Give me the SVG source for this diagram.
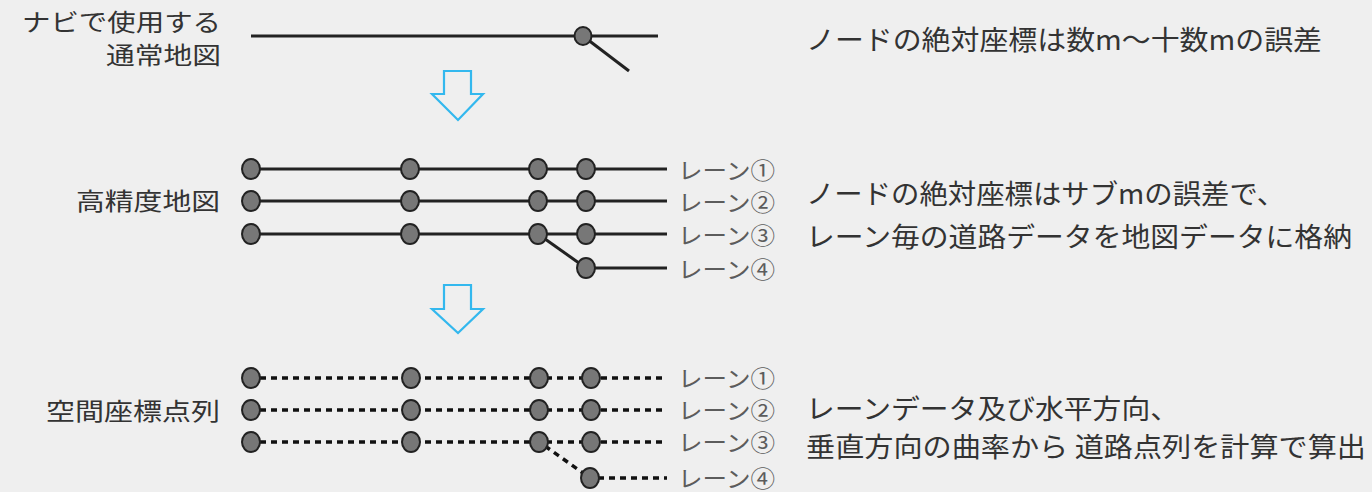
<svg xmlns="http://www.w3.org/2000/svg" width="1372" height="492" viewBox="0 0 1372 492">
<style>
.bg{fill:#efefef}
.lbl{font-family:"Noto Sans CJK JP","Noto Sans",sans-serif;font-size:24px;fill:#333}
.desc{font-family:"Noto Sans CJK JP","Noto Sans",sans-serif;font-size:27px;fill:#333}
.lane{font-family:"Noto Sans CJK JP","Noto Sans",sans-serif;font-size:23px;fill:#5c5c5c}
.road{stroke:#222;stroke-width:3;fill:none}
.dash{stroke:#111;stroke-width:3.5;fill:none;stroke-dasharray:6 5}
.node{fill:#777;stroke:#222;stroke-width:2}
.arrow{fill:none;stroke:#33b8ee;stroke-width:2.2;stroke-linejoin:miter}
</style>
<rect class="bg" x="0" y="0" width="1372" height="492"/>

<g id="connectors">
  <line class="road" x1="251" y1="36" x2="658" y2="36"/>
  <line class="road" x1="583" y1="36" x2="629" y2="71"/>
  <line class="road" x1="250" y1="169" x2="667" y2="169"/>
  <line class="road" x1="250" y1="201" x2="667" y2="201"/>
  <line class="road" x1="250" y1="234" x2="667" y2="234"/>
  <line class="road" x1="538" y1="234" x2="586" y2="268"/>
  <line class="road" x1="586" y1="268" x2="667" y2="268"/>
  <line class="dash" x1="260" y1="378" x2="667" y2="378"/>
  <line class="dash" x1="260" y1="410" x2="667" y2="410"/>
  <line class="dash" x1="260" y1="442" x2="667" y2="442"/>
  <line class="dash" x1="545" y1="446" x2="590" y2="478"/>
  <line class="dash" x1="598" y1="478" x2="667" y2="478"/>
  <polygon class="arrow" points="444,71 471,71 471,94 483,94 458,120 432,94 444,94"/>
  <polygon class="arrow" points="444,285 471,285 471,309 483,309 458,333 432,309 444,309"/>
</g>

<g id="label-normal">
  <text class="lbl" x="22" y="31" textLength="199" lengthAdjust="spacingAndGlyphs">ナビで使用する</text>
  <text class="lbl" x="106" y="64" textLength="115" lengthAdjust="spacingAndGlyphs">通常地図</text>
</g>
<g id="node-normal">
  <ellipse class="node" cx="583" cy="36" rx="8.5" ry="9"/>
</g>
<g id="desc-normal">
  <text class="desc" x="806" y="50" textLength="516" lengthAdjust="spacingAndGlyphs">ノードの絶対座標は数m～十数mの誤差</text>
</g>

<g id="label-hd">
  <text class="lbl" x="76" y="210" textLength="144" lengthAdjust="spacingAndGlyphs">高精度地図</text>
</g>
<g id="nodes-hd">
  <ellipse class="node" cx="251" cy="169" rx="9" ry="10"/>
  <ellipse class="node" cx="410" cy="169" rx="9" ry="10"/>
  <ellipse class="node" cx="538" cy="169" rx="9" ry="10"/>
  <ellipse class="node" cx="586" cy="169" rx="9" ry="10"/>
  <ellipse class="node" cx="251" cy="201" rx="9" ry="10"/>
  <ellipse class="node" cx="410" cy="201" rx="9" ry="10"/>
  <ellipse class="node" cx="538" cy="201" rx="9" ry="10"/>
  <ellipse class="node" cx="586" cy="201" rx="9" ry="10"/>
  <ellipse class="node" cx="251" cy="234" rx="9" ry="10"/>
  <ellipse class="node" cx="410" cy="234" rx="9" ry="10"/>
  <ellipse class="node" cx="538" cy="234" rx="9" ry="10"/>
  <ellipse class="node" cx="586" cy="234" rx="9" ry="10"/>
  <ellipse class="node" cx="586" cy="268" rx="9" ry="10"/>
</g>
<g id="lanes-hd">
  <text class="lane" x="678" y="179" textLength="97" lengthAdjust="spacingAndGlyphs">レーン①</text>
  <text class="lane" x="678" y="211" textLength="97" lengthAdjust="spacingAndGlyphs">レーン②</text>
  <text class="lane" x="678" y="244" textLength="97" lengthAdjust="spacingAndGlyphs">レーン③</text>
  <text class="lane" x="678" y="278" textLength="97" lengthAdjust="spacingAndGlyphs">レーン④</text>
</g>
<g id="desc-hd">
  <text class="desc" x="806" y="204" textLength="479" lengthAdjust="spacingAndGlyphs">ノードの絶対座標はサブmの誤差で、</text>
  <text class="desc" x="806" y="247" textLength="546" lengthAdjust="spacingAndGlyphs">レーン毎の道路データを地図データに格納</text>
</g>

<g id="label-points">
  <text class="lbl" x="46" y="420" textLength="174" lengthAdjust="spacingAndGlyphs">空間座標点列</text>
</g>
<g id="nodes-points">
  <ellipse class="node" cx="251" cy="378" rx="9" ry="10"/>
  <ellipse class="node" cx="411" cy="378" rx="9" ry="10"/>
  <ellipse class="node" cx="539" cy="378" rx="9" ry="10"/>
  <ellipse class="node" cx="591" cy="378" rx="9" ry="10"/>
  <ellipse class="node" cx="251" cy="410" rx="9" ry="10"/>
  <ellipse class="node" cx="411" cy="410" rx="9" ry="10"/>
  <ellipse class="node" cx="539" cy="410" rx="9" ry="10"/>
  <ellipse class="node" cx="591" cy="410" rx="9" ry="10"/>
  <ellipse class="node" cx="251" cy="442" rx="9" ry="10"/>
  <ellipse class="node" cx="411" cy="442" rx="9" ry="10"/>
  <ellipse class="node" cx="539" cy="442" rx="9" ry="10"/>
  <ellipse class="node" cx="591" cy="442" rx="9" ry="10"/>
  <ellipse class="node" cx="590" cy="478" rx="9" ry="10"/>
</g>
<g id="lanes-points">
  <text class="lane" x="678" y="387" textLength="97" lengthAdjust="spacingAndGlyphs">レーン①</text>
  <text class="lane" x="678" y="419" textLength="97" lengthAdjust="spacingAndGlyphs">レーン②</text>
  <text class="lane" x="678" y="451" textLength="97" lengthAdjust="spacingAndGlyphs">レーン③</text>
  <text class="lane" x="678" y="487" textLength="97" lengthAdjust="spacingAndGlyphs">レーン④</text>
</g>
<g id="desc-points">
  <text class="desc" x="806" y="419" textLength="373" lengthAdjust="spacingAndGlyphs">レーンデータ及び水平方向、</text>
  <text class="desc" x="806" y="457" textLength="560" lengthAdjust="spacingAndGlyphs">垂直方向の曲率から 道路点列を計算で算出</text>
</g>
</svg>
